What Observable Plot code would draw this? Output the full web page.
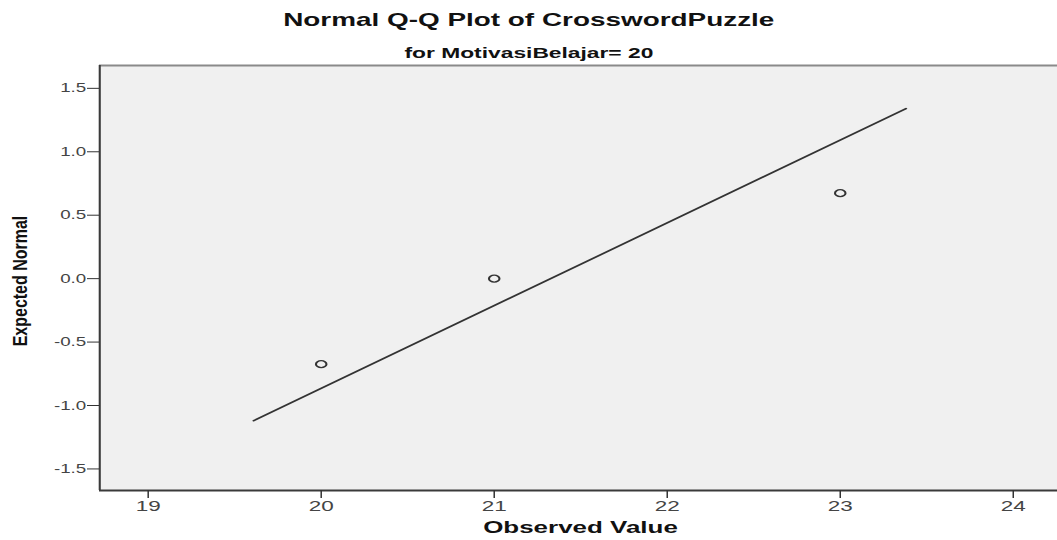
<!DOCTYPE html>
<html>
<head>
<meta charset="utf-8">
<script src="https://cdn.jsdelivr.net/npm/d3@7"></script>
<script src="https://cdn.jsdelivr.net/npm/@observablehq/plot@0.6"></script>
<style>
  html, body { margin: 0; padding: 0; background: #ffffff; }
  body { width: 1057px; height: 540px; overflow: hidden; position: relative; font-family: "Liberation Sans", Arial, sans-serif; }
  .t { position: absolute; left: 0; width: 1057px; text-align: center; line-height: 1; font-weight: bold; color: #111; white-space: nowrap; }
  .t span { display: inline-block; transform: scaleX(1.5); transform-origin: 50% 50%; }
  #title { top: 11px; font-size: 18.6px; }
  #subtitle { top: 45px; font-size: 15.2px; }
  #ylabel { position: absolute; left: -80px; top: 269px; width: 200px; height: 24px; line-height: 24px; text-align: center; font-weight: bold; font-size: 19.5px; color: #111; white-space: nowrap; transform: rotate(-90deg) scaleX(0.82); transform-origin: 50% 50%; }
  #chart { position: absolute; left: 0; top: 55px; transform: scaleX(1.5); transform-origin: 0 0; }
</style>
</head>
<body>
<div id="title" class="t"><span>Normal Q-Q Plot of CrosswordPuzzle</span></div>
<div id="subtitle" class="t"><span>for MotivasiBelajar= 20</span></div>
<div id="ylabel">Expected Normal</div>
<div id="chart"></div>
<script>
// Data
const observed = [20, 21, 23];
const expectedNormal = [-0.674, 0, 0.674];
const lineX = [19.61, 23.38];
const lineY = [-1.12, 1.34];
const xTicks = [19, 20, 21, 22, 23, 24];
const yTicks = [-1.5, -1.0, -0.5, 0.0, 0.5, 1.0, 1.5];
const xDomain = [18.72, 24.26];
const yDomain = [-1.67, 1.68];
const xLabel = "Observed Value";

const points = observed.map((v, i) => ({x: v, y: expectedNormal[i]}));
const fitLine = lineX.map((v, i) => ({x: v, y: lineY[i]}));

const chart = Plot.plot({
  width: 705,
  height: 485,
  marginLeft: 66,
  marginRight: 0,
  marginTop: 10,
  marginBottom: 50,
  style: {background: "transparent", fontFamily: "'Liberation Sans', Arial, sans-serif", color: "#444"},
  x: {domain: xDomain},
  y: {domain: yDomain},
  marks: [
    Plot.frame({fill: "#f0f0f0", stroke: null}),
    Plot.ruleY([yDomain[1]], {stroke: "#8a8a8a", strokeWidth: 2}),
    Plot.ruleY([yDomain[0]], {stroke: "#3a3a3a", strokeWidth: 2}),
    Plot.ruleX([xDomain[0]], {stroke: "#3a3a3a", strokeWidth: 1.4}),
    Plot.axisY({ticks: yTicks, tickSize: 8, tickPadding: 1, fontSize: 12.5, tickFormat: d => d.toFixed(1), label: null, stroke: "#333"}),
    Plot.axisX({ticks: xTicks, tickSize: 8, tickPadding: 2, fontSize: 15, tickFormat: d => String(d), label: null, stroke: "#333"}),
    Plot.text([xLabel], {frameAnchor: "bottom", dy: 42, dx: 1, fontWeight: "bold", fontSize: 17.3, fill: "#111"}),
    Plot.line(fitLine, {x: "x", y: "y", stroke: "#333", strokeWidth: 1.6}),
    Plot.dot(points, {x: "x", y: "y", r: 3.5, stroke: "#333", strokeWidth: 1.4, fill: "none"})
  ]
});
document.getElementById("chart").appendChild(chart);
</script>
</body>
</html>
